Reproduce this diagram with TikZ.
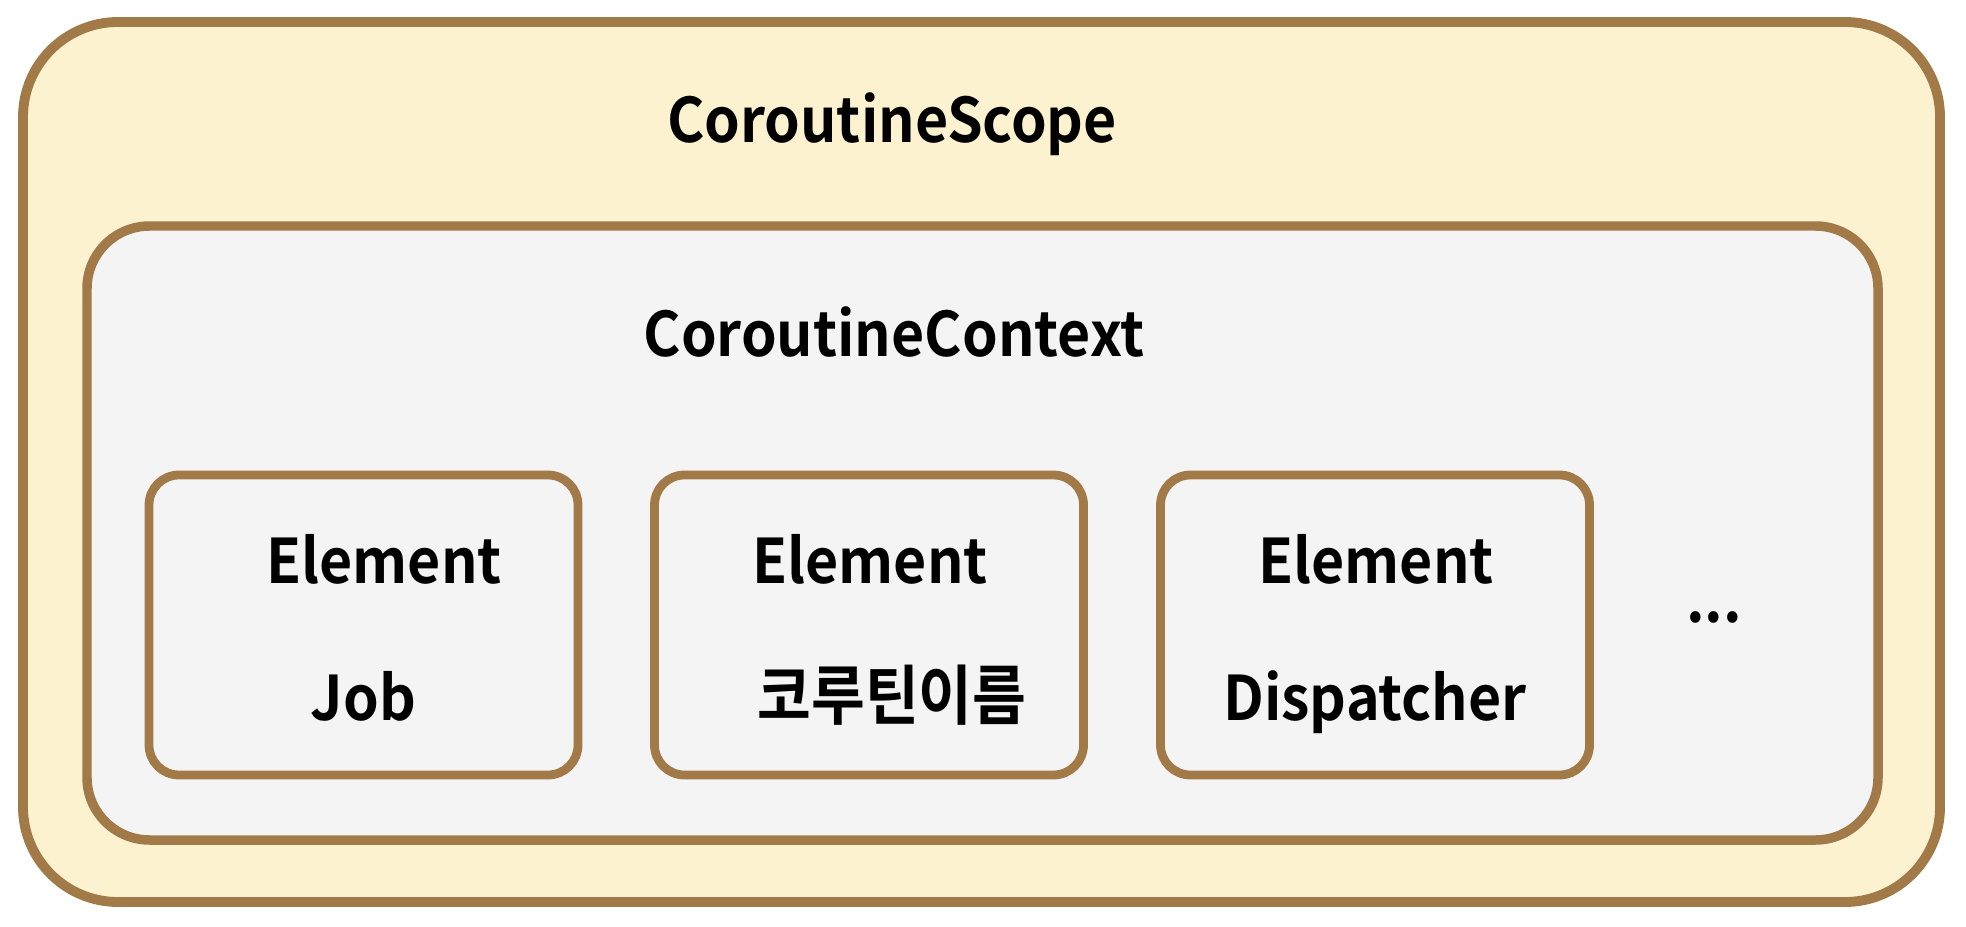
\documentclass[tikz,border=0pt]{standalone}
\usepackage{fontspec}
\setmainfont[FakeStretch=0.93]{Noto Sans CJK KR Bold}
\newfontfamily\krfont[FakeStretch=0.9]{Noto Sans CJK KR Bold}
\usepackage{tikz}
\usetikzlibrary{calc,positioning,fit}
\usepackage{xcolor}
\definecolor{boxline}{HTML}{A27A48}
\definecolor{scopefill}{HTML}{FCF2D0}
\definecolor{ctxfill}{HTML}{F4F4F4}

\begin{document}
\begin{tikzpicture}[box/.style={draw=boxline,rectangle,inner sep=0pt},
  elem/.style={box,fill=ctxfill,line width=5pt,rounded corners=0.6cm,minimum width=8.58cm,minimum height=6cm},
  txt/.style={anchor=base,inner sep=0pt,font=\fontsize{35}{40}\selectfont}]
  \useasboundingbox (0,0) rectangle (39.32,18.52);

  \node[box,fill=scopefill,line width=5.6pt,rounded corners=1.9cm,minimum width=38.34cm,minimum height=17.6cm] (scope) at (19.63,9.28) {};
  \node[box,fill=ctxfill,line width=5.4pt,rounded corners=1.25cm,minimum width=35.82cm,minimum height=12.28cm] (ctx) at (19.65,7.86) {};

  \node[elem] (e1) at (7.27,6.02) {};
  \node[elem] (e2) at (17.38,6.02) {};
  \node[elem] (e3) at (27.5,6.02) {};

  \node[txt] (tscope) at (17.84,15.66) {CoroutineScope};
  \node[txt] (tctx) at (17.88,11.4) {CoroutineContext};

  \node[txt] (el1) at (7.68,6.86) {Element};
  \node[txt] (el2) at (17.4,6.86) {Element};
  \node[txt] (el3) at (27.52,6.86) {Element};

  \node[txt] (job) at (7.27,4.12) {Job};
  \node[txt,font=\fontsize{37}{40}\krfont] (name) at (17.84,4.14) {코루틴이름};
  \node[txt] (disp) at (27.5,4.12) {Dispatcher};

  \node[txt] (more) at (34.28,6.08) {...};
\end{tikzpicture}
\end{document}
